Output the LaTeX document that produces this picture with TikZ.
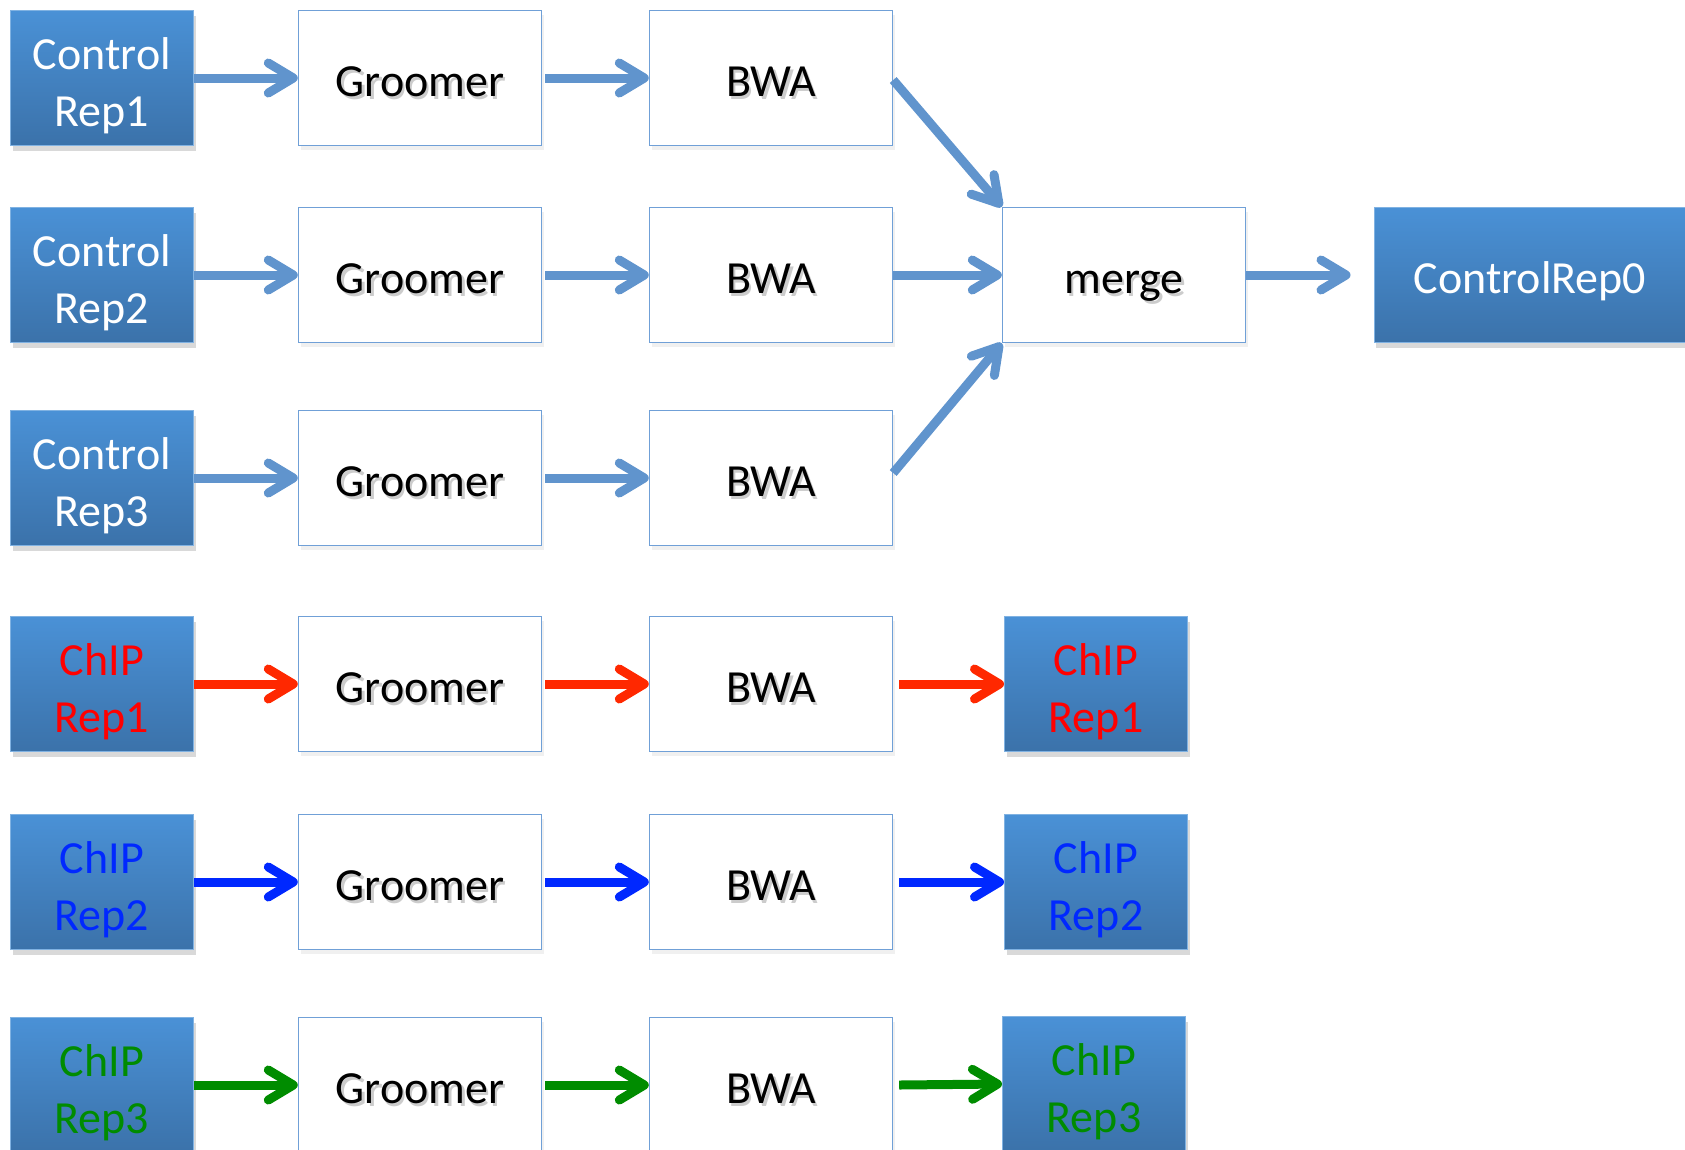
\documentclass[tikz,border=0pt]{standalone}
\usepackage{fontspec}
\setmainfont{Carlito}
\usetikzlibrary{arrows.meta,shadows}
\definecolor{arrowblue}{RGB}{96,148,205}
\definecolor{boxtop}{RGB}{74,145,214}
\definecolor{boxbot}{RGB}{59,114,170}
\definecolor{edgeblue}{RGB}{112,160,215}
\definecolor{chipred}{RGB}{255,0,0}
\definecolor{arrred}{RGB}{255,40,0}
\definecolor{chipblue}{RGB}{0,40,255}
\definecolor{chipgreen}{RGB}{0,140,0}
\newcommand{\shtext}[1]{\makebox[0pt][l]{\raisebox{-3pt}{\hspace{2.5pt}\textcolor{black!20}{#1}}}#1}
\newcommand{\twoline}[2]{\begin{tabular}[b]{@{}c@{}}#1\\#2\end{tabular}}
\tikzset{
  basebox/.style={minimum height=135pt, inner sep=0pt,
    font=\fontsize{46}{57}\selectfont, text height=44pt, text depth=7pt},
  srcbox/.style={basebox, draw=boxtop!70!white, line width=1pt, top color=boxtop, bottom color=boxbot,
    minimum width=183pt,
    drop shadow={opacity=0.3, shadow xshift=2pt, shadow yshift=-5pt}},
  twobox/.style={text height=100pt, text depth=4pt},
  procbox/.style={basebox, draw=edgeblue, line width=1.4pt, fill=white,
    minimum width=243pt,
    drop shadow={opacity=0.12, shadow xshift=2pt, shadow yshift=-4pt}},
  flow/.style={line width=9pt, -{Straight Barb[length=25pt,width=30pt,round]},
    preaction={draw, black, opacity=0.08, transform canvas={yshift=-3pt}}},
}
\begin{document}
\begin{tikzpicture}[x=1pt,y=-1pt]
\useasboundingbox (0,0) rectangle (1685,1149);
% rows
\node[srcbox, twobox, text=white] (s1) at (102,78) {\twoline{Control}{Rep1}};
\node[srcbox, twobox, text=white] (s2) at (102,275) {\twoline{Control}{Rep2}};
\node[srcbox, twobox, text=white] (s3) at (102,478) {\twoline{Control}{Rep3}};
\node[srcbox, twobox, text=chipred] (s4) at (102,684) {\twoline{ChIP}{Rep1}};
\node[srcbox, twobox, text=chipblue] (s5) at (102,882) {\twoline{ChIP}{Rep2}};
\node[srcbox, twobox, text=chipgreen] (s6) at (102,1085) {\twoline{ChIP}{Rep3}};
\foreach \i/\y in {1/78,2/275,3/478,4/684,5/882,6/1085}{
  \node[procbox] (g\i) at (420,\y) {\shtext{Groomer}};
  \node[procbox] (b\i) at (771,\y) {\shtext{BWA}};
}
\node[procbox] (m) at (1124,275) {\shtext{merge}};
\node[srcbox, text=white, minimum width=312pt] (c0) at (1530,275) {ControlRep0};
\node[srcbox, twobox, text=chipred] (c4) at (1096,684) {\twoline{ChIP}{Rep1}};
\node[srcbox, twobox, text=chipblue] (c5) at (1096,882) {\twoline{ChIP}{Rep2}};
\node[srcbox, twobox, text=chipgreen] (c6) at (1094,1084) {\twoline{ChIP}{Rep3}};
% control arrows
\foreach \i in {1,2,3}{
  \draw[flow, arrowblue] (s\i.east) -- (g\i.west);
  \draw[flow, arrowblue] ([xshift=3pt]g\i.east) -- (b\i.west);
}
\draw[flow, arrowblue] ([yshift=-2pt]b1.east) -- (m.north west);
\draw[flow, arrowblue] (b2.east) -- (m.west);
\draw[flow, arrowblue] ([yshift=5pt]b3.east) -- (m.south west);
\draw[flow, arrowblue] (m.east) -- ([xshift=-23pt]c0.west);
% chip arrows
\foreach \i/\c in {4/arrred,5/chipblue,6/chipgreen}{
  \draw[flow, \c] (s\i.east) -- (g\i.west);
  \draw[flow, \c] ([xshift=3pt]g\i.east) -- (b\i.west);
  \draw[flow, \c] ([xshift=6pt]b\i.east) -- (c\i.west);
}
\end{tikzpicture}
\end{document}
